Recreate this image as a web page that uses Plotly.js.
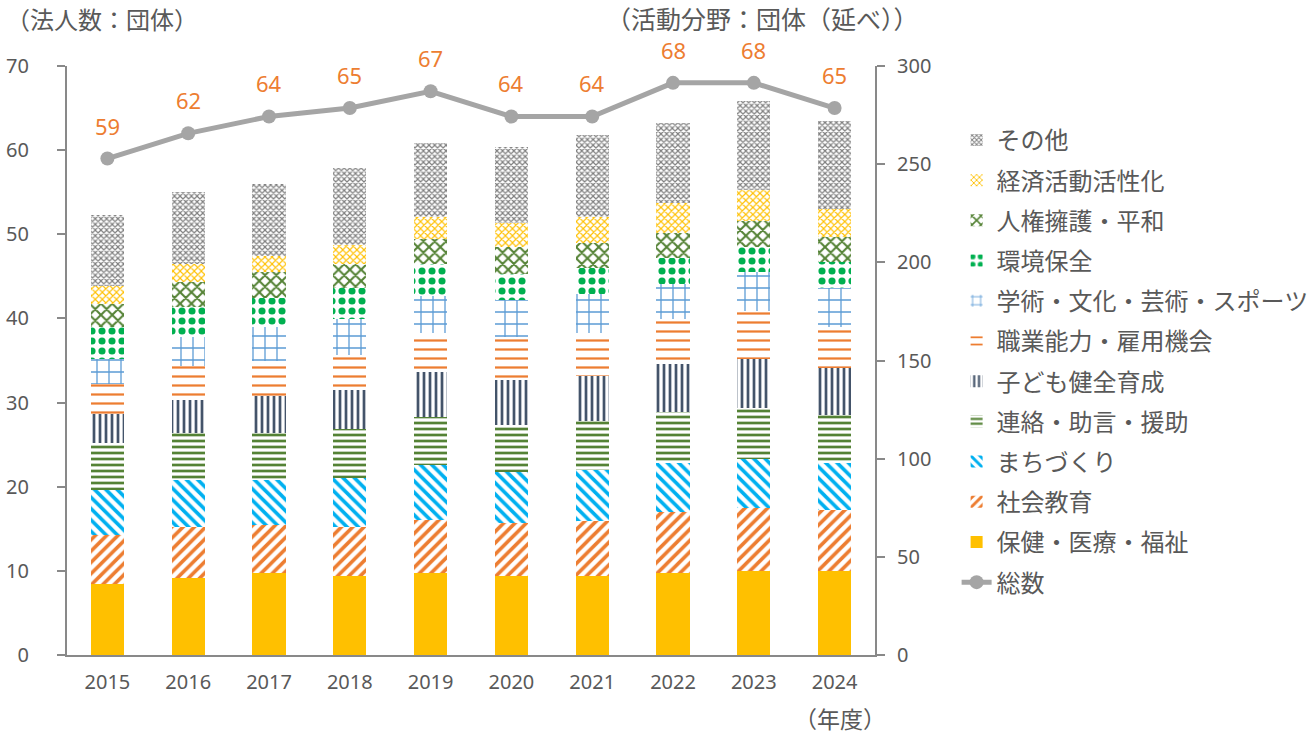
<!DOCTYPE html>
<html>
<head>
<meta charset="utf-8">
<script src="https://cdn.plot.ly/plotly-3.0.1.min.js"></script>
<style>html,body{margin:0;padding:0;background:#fff;}#chart{width:1315px;height:734px;}</style>
</head>
<body>
<div id="chart"></div>
<script>
const years = ['2015','2016','2017','2018','2019','2020','2021','2022','2023','2024'];
const totalCorps = [59, 62, 64, 65, 67, 64, 64, 68, 68, 65];

const hokenIryoFukushi   = [36, 39, 42, 40, 42, 40, 40, 42, 43, 43];
const shakaiKyoiku       = [25, 26, 24, 25, 27, 27, 28, 31, 32, 31];
const machizukuri        = [23, 24, 23, 25, 28, 26, 26, 25, 25, 24];
const renrakuJogen       = [24, 24, 24, 25, 24, 24, 25, 26, 26, 24];
const kodomoIkusei       = [15, 17, 19, 20, 23, 23, 23, 24, 25, 24];
const shokugyoKoyo       = [15, 17, 18, 18, 20, 22, 22, 23, 24, 21];
const gakujutsuBunka     = [13, 15, 17, 18, 19, 19, 20, 18, 20, 20];
const kankyoHozen        = [16, 15, 15, 16, 16, 13, 13, 13, 13, 13];
const jinkenHeiwa        = [12, 13, 13, 12, 13, 14, 13, 13, 13, 13];
const keizaiKasseika     = [ 9,  9,  8, 10, 11, 12, 13, 15, 16, 14];
const sonota             = [36, 37, 37, 39, 38, 39, 42, 41, 45, 45];

const seriesNames = ['保健・医療・福祉','社会教育','まちづくり','連絡・助言・援助','子ども健全育成',
  '職業能力・雇用機会','学術・文化・芸術・スポーツ','環境保全','人権擁護・平和','経済活動活性化','その他'];
const seriesValues = [hokenIryoFukushi, shakaiKyoiku, machizukuri, renrakuJogen, kodomoIkusei,
  shokugyoKoyo, gakujutsuBunka, kankyoHozen, jinkenHeiwa, keizaiKasseika, sonota];
const lineName = '総数';

const styles = [
  {color:'#FFC000', pattern:null},
  {color:'#ED7D31', pattern:{shape:'/', size:8, solidity:0.45}},
  {color:'#00B0F0', pattern:{shape:'\\', size:8, solidity:0.45}},
  {color:'#548235', pattern:{shape:'-', size:6, solidity:0.45}},
  {color:'#44546A', pattern:{shape:'|', size:6, solidity:0.45}},
  {color:'#ED7D31', pattern:{shape:'-', size:9, solidity:0.25}},
  {color:'#5B9BD5', pattern:{shape:'+', size:12, solidity:0.2}},
  {color:'#00B050', pattern:{shape:'.', size:10, solidity:0.4}},
  {color:'#548235', pattern:{shape:'x', size:8, solidity:0.45}},
  {color:'#FFC000', pattern:{shape:'x', size:5, solidity:0.4}},
  {color:'#7F7F7F', pattern:{shape:'x', size:4, solidity:0.5}}
];

const nSeries = seriesNames.length;
const traces = [];
seriesNames.forEach((nm, i) => {
  const st = styles[i];
  const marker = {color: st.color, line:{width:0}};
  if (st.pattern) {
    marker.color = '#FFFFFF';
    marker.pattern = Object.assign({fgcolor: st.color, bgcolor:'#FFFFFF', fillmode:'replace'}, st.pattern);
  }
  traces.push({type:'bar', name:nm, x:years, y:seriesValues[i], yaxis:'y', marker:marker,
    legendgroup:'g'+i, legendrank:(nSeries - i) * 10, hoverinfo:'skip'});
});
traces.push({
  type:'scatter', mode:'lines+markers', name:lineName, x:years, y:totalCorps, yaxis:'y2',
  line:{color:'#A5A5A5', width:5}, marker:{color:'#A5A5A5', size:14},
  legendgroup:'g_line', legendrank:1000, hoverinfo:'skip'
});

const numFont = 'Noto Sans, DejaVu Sans Condensed, sans-serif';
const cjkFont = 'Noto Sans CJK JP, sans-serif';
const gray = '#595959';
const axisGray = '#898989';

const annotations = years.map((yr, i) => ({
  x: i, y: totalCorps[i], xref:'x', yref:'y2', text:String(totalCorps[i]),
  showarrow:false, yshift:33, font:{family:numFont, size:22, color:'#ED7D31', stretch:'condensed'}
}));
annotations.push({xref:'paper', yref:'paper', x:-0.078, y:1.081, xanchor:'left', yanchor:'middle',
  text:'（法人数：団体）', showarrow:false, font:{family:cjkFont, size:24, color:gray}});
annotations.push({xref:'paper', yref:'paper', x:1.057, y:1.081, xanchor:'right', yanchor:'middle',
  text:'（活動分野：団体（延べ））', showarrow:false, font:{family:cjkFont, size:25, color:gray}});
annotations.push({xref:'paper', yref:'paper', x:0.957, y:-0.107, xanchor:'center', yanchor:'middle',
  text:'（年度）', showarrow:false, font:{family:cjkFont, size:23, color:gray}});

const tickFont = {family:numFont, size:20, color:gray, stretch:'condensed'};

const layout = {
  width:1315, height:734,
  margin:{l:67, r:440, t:66, b:79, autoexpand:false},
  paper_bgcolor:'#FFFFFF', plot_bgcolor:'#FFFFFF',
  barmode:'stack', bargap:0.59,
  showlegend:true,
  legend:{x:1.101, y:0.912, xanchor:'left', yanchor:'top', traceorder:'grouped',
    tracegroupgap:6, font:{family:cjkFont, size:24, color:gray}, bgcolor:'rgba(0,0,0,0)'},
  xaxis:{type:'category', range:[-0.5, 9.5], autorange:false, showline:true, linecolor:axisGray, linewidth:2, ticks:'',
    showgrid:false, zeroline:false, tickfont:tickFont, ticklabelstandoff:8, automargin:false},
  yaxis:{side:'right', range:[0,300], autorange:false, dtick:50, showline:true, linecolor:axisGray, linewidth:2,
    ticks:'outside', ticklen:8, tickwidth:2, tickcolor:axisGray, showgrid:false, zeroline:false,
    tickfont:tickFont, ticklabelstandoff:8, automargin:false},
  yaxis2:{side:'left', overlaying:'y', range:[0,70], autorange:false, dtick:10, showline:true, linecolor:axisGray, linewidth:2,
    ticks:'outside', ticklen:8, tickwidth:2, tickcolor:axisGray, showgrid:false, zeroline:false,
    tickfont:tickFont, ticklabelstandoff:24, automargin:false},
  annotations:annotations
};

Plotly.newPlot('chart', traces, layout, {displayModeBar:false, staticPlot:true});
</script>
</body>
</html>
